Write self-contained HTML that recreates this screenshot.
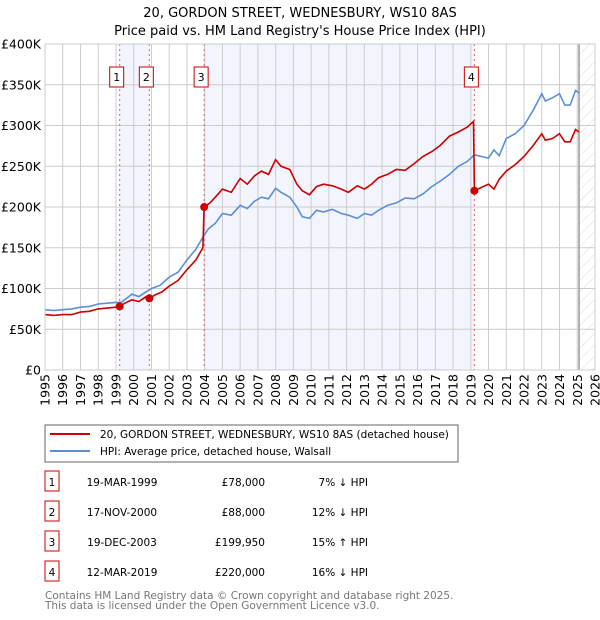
<!DOCTYPE html>
<html><head><meta charset="utf-8"><style>
body{margin:0;background:#fff;font-family:"Liberation Sans","DejaVu Sans",sans-serif;}
#wrap{position:relative;width:600px;height:620px;overflow:hidden;}
svg text{font-family:"DejaVu Sans","Liberation Sans",sans-serif;}
</style></head><body><div id="wrap">
<svg id="chart" width="600" height="620">
<defs><pattern id="hatch" width="8" height="8" patternUnits="userSpaceOnUse" patternTransform="rotate(45)"><line x1="0" y1="0" x2="0" y2="8" stroke="#ccc" stroke-width="0.7"/></pattern></defs>
<text x="300" y="17" text-anchor="middle" font-size="13" fill="#000">20, GORDON STREET, WEDNESBURY, WS10 8AS</text>
<text x="300" y="35" text-anchor="middle" font-size="13" fill="#000">Price paid vs. HM Land Registry's House Price Index (HPI)</text>
<g id="plot"></g>
<rect x="45" y="425" width="413" height="37" fill="#fff" stroke="#666"/>
<line x1="50" y1="434" x2="90" y2="434" stroke="#cc0000" stroke-width="2"/>
<text x="100" y="438" font-size="10.5">20, GORDON STREET, WEDNESBURY, WS10 8AS (detached house)</text>
<line x1="50" y1="451" x2="90" y2="451" stroke="#5b8fd6" stroke-width="2"/>
<text x="100" y="455" font-size="10.5">HPI: Average price, detached house, Walsall</text>
<g id="table" font-size="10.5"></g>
<text x="45" y="599" font-size="10.5" fill="#777">Contains HM Land Registry data © Crown copyright and database right 2025.</text>
<text x="45" y="609" font-size="10.5" fill="#777">This data is licensed under the Open Government Licence v3.0.</text>
</svg></div>
<script>
const hpiDates=[1995,1995.5,1996,1996.5,1997,1997.5,1998,1998.5,1999,1999.3,1999.6,1999.9,2000.3,2000.7,2001,2001.5,2002,2002.5,2003,2003.5,2003.9,2004.2,2004.6,2005,2005.5,2006,2006.4,2006.8,2007.2,2007.6,2008,2008.3,2008.8,2009.2,2009.5,2009.9,2010.3,2010.7,2011.2,2011.7,2012.1,2012.6,2013,2013.4,2013.8,2014.3,2014.8,2015.3,2015.8,2016.3,2016.8,2017.3,2017.8,2018.3,2018.8,2019.2,2019.6,2020,2020.3,2020.6,2021,2021.5,2022,2022.5,2023,2023.2,2023.6,2024,2024.3,2024.6,2024.9,2025.1];
const hpiValues=[74,73,74,75,77,78,81,82,83,83,88,93,90,96,100,104,114,120,135,148,163,173,180,192,190,202,198,207,212,210,223,218,212,200,188,186,196,194,197,192,190,186,192,190,196,202,205,211,210,216,225,232,240,250,256,264,262,260,270,263,284,290,300,318,339,330,334,339,325,325,343,340];
const propDates=[1995,1995.5,1996,1996.5,1997,1997.5,1998,1998.5,1999,1999.21,1999.5,1999.9,2000.3,2000.7,2000.88,2001.2,2001.6,2002,2002.5,2003,2003.5,2003.9,2003.97,2004.3,2004.6,2005,2005.5,2006,2006.4,2006.8,2007.2,2007.6,2008,2008.3,2008.8,2009.2,2009.5,2009.9,2010.3,2010.7,2011.2,2011.7,2012.1,2012.6,2013,2013.4,2013.8,2014.3,2014.8,2015.3,2015.8,2016.3,2016.8,2017.3,2017.8,2018.3,2018.8,2019.15,2019.2,2019.6,2020,2020.3,2020.6,2021,2021.5,2022,2022.5,2023,2023.2,2023.6,2024,2024.3,2024.6,2024.9,2025.1];
const propValues=[68,67,68,68,71,72,75,76,77,78,82,86,84,90,88,92,96,103,110,123,135,150,200,205,212,222,218,235,228,238,244,240,258,250,246,228,220,215,225,228,226,222,218,226,222,228,236,240,246,245,253,262,268,276,287,292,298,305,220,224,228,222,234,244,252,262,275,290,282,284,290,280,280,295,292];
const saleDates=[1999.21,2000.88,2003.97,2019.2];
const salePrices=[78,88,199.95,220];
const saleLabels=["1","2","3","4"];
const yTicks=[0,50,100,150,200,250,300,350,400];
const yTickLabels=["£0","£50K","£100K","£150K","£200K","£250K","£300K","£350K","£400K"];
const xYears=[1995,1996,1997,1998,1999,2000,2001,2002,2003,2004,2005,2006,2007,2008,2009,2010,2011,2012,2013,2014,2015,2016,2017,2018,2019,2020,2021,2022,2023,2024,2025,2026];
const tableDates=["19-MAR-1999","17-NOV-2000","19-DEC-2003","12-MAR-2019"];
const tablePrices=["£78,000","£88,000","£199,950","£220,000"];
const tableHpi=["7% ↓ HPI","12% ↓ HPI","15% ↑ HPI","16% ↓ HPI"];
const L=45,R=595,T=44,B=370,X0=1995,X1=2026,Ymax=400,hatchStart=2025.1;
const xs=d=>L+(d-X0)/(X1-X0)*(R-L);
const ys=v=>B-v/Ymax*(B-T);
const NS="http://www.w3.org/2000/svg";
const plot=document.getElementById('plot');
function mk(tag,attrs,parent){const e=document.createElementNS(NS,tag);for(const k in attrs)e.setAttribute(k,attrs[k]);(parent||plot).appendChild(e);return e;}
for(const [a,b] of [[0,1],[2,3]]){
const r=mk('rect',{x:xs(saleDates[a]),y:T,width:xs(saleDates[b])-xs(saleDates[a]),height:B-T,fill:'#f2f5fd'});

}
const h=mk('rect',{x:xs(hatchStart),y:T,width:R-xs(hatchStart),height:B-T,fill:'url(#hatch)'});


yTicks.forEach((v,i)=>{
const g=mk('line',{x1:L,x2:R,y1:ys(v),y2:ys(v),stroke:'#ccc','stroke-width':1});


const t=mk('text',{x:L-4,y:ys(v)+4.5,'text-anchor':'end','font-size':12.5,fill:'#000'});
t.textContent=yTickLabels[i];

});
xYears.forEach(yr=>{
const g=mk('line',{x1:xs(yr),x2:xs(yr),y1:T,y2:B,stroke:'#ccc','stroke-width':1});


const t=mk('text',{x:0,y:0,'text-anchor':'end','font-size':12.5,transform:`translate(${xs(yr)+4.5},${B+4}) rotate(-90)`});
t.textContent=yr;

});
const hl=mk('line',{x1:xs(hatchStart),x2:xs(hatchStart),y1:T,y2:B,stroke:'#999','stroke-width':1.5});


saleDates.forEach((d,i)=>{
const l=mk('line',{x1:xs(d),x2:xs(d),y1:T,y2:B,stroke:'#e06060','stroke-width':1,'stroke-dasharray':'2,3'});

});
const path=(ds,vs)=>ds.map((d,i)=>(i?'L':'M')+xs(d).toFixed(1)+','+ys(vs[i]).toFixed(1)).join(' ');
const hp=mk('path',{d:path(hpiDates,hpiValues),fill:'none',stroke:'#5b8fd6','stroke-width':1.6});


const pp=mk('path',{d:path(propDates,propValues),fill:'none',stroke:'#cc0000','stroke-width':1.6});


saleDates.forEach((d,i)=>{
const c=mk('circle',{cx:xs(d),cy:ys(salePrices[i]),r:4,fill:'#cc0000'});


const b=mk('rect',{x:xs(d)-10,y:67,width:14,height:20,fill:'#fff',stroke:'#cc0000','stroke-width':1});


const t=mk('text',{x:xs(d)-3,y:81,'text-anchor':'middle','font-size':11});
t.textContent=saleLabels[i];

});
const fr=mk('rect',{x:L,y:T,width:R-L,height:B-T,fill:'none',stroke:'#ccc'});


const tb=document.getElementById('table');
saleLabels.forEach((s,i)=>{
const y=483+i*30;
const b=mk('rect',{x:45,y:y-12,width:14,height:20,fill:'#fff',stroke:'#cc0000'},tb);


const n=mk('text',{x:52,y:y+3,'text-anchor':'middle'},tb);n.textContent=s;


const d=mk('text',{x:122,y:y+3,'text-anchor':'middle'},tb);d.textContent=tableDates[i];


const p=mk('text',{x:265,y:y+3,'text-anchor':'end'},tb);p.textContent=tablePrices[i];


const hh=mk('text',{x:368,y:y+3,'text-anchor':'end'},tb);hh.textContent=tableHpi[i];

});
</script></body></html>
